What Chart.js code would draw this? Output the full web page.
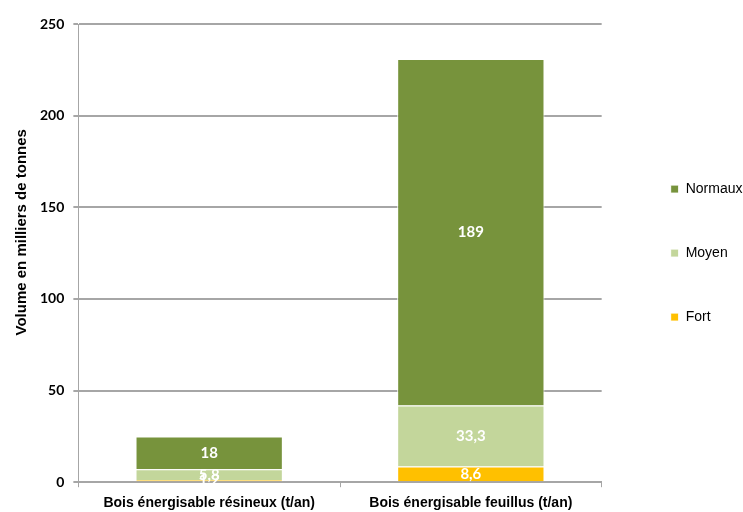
<!DOCTYPE html>
<html>
<head>
<meta charset="utf-8">
<script src="https://cdn.jsdelivr.net/npm/chart.js@4"></script>
<style>
  html, body { margin: 0; padding: 0; background: #fff; }
  #wrap { width: 743px; height: 512px; }
</style>
</head>
<body>
<div id="wrap"><canvas id="volumeChart" width="743" height="512"></canvas></div>
<script>
const categories = ["Bois énergisable résineux (t/an)", "Bois énergisable feuillus (t/an)"];
const fort = [1.2, 8.6];
const moyen = [5.8, 33.3];
const normaux = [18, 189];
const yTicks = [0, 50, 100, 150, 200, 250];

const GRID = "#a6a6a6";
const ARIAL = "'Liberation Sans', Arial, sans-serif";

// value of each segment, written white in its middle
const barValues = {
    id: "barValues",
    afterDatasetsDraw(chart) {
        const ctx = chart.ctx;
        ctx.save();
        ctx.font = "bold 15px Lato";
        ctx.fillStyle = "#fff";
        ctx.textAlign = "center";
        ctx.textBaseline = "middle";
        chart.data.datasets.forEach((ds, i) => {
            chart.getDatasetMeta(i).data.forEach((bar, j) => {
                const label = String(ds.data[j]).replace(".", ",");
                ctx.fillText(label, bar.x, (bar.y + bar.base) / 2);
            });
        });
        ctx.restore();
    }
};

function makeDataset(label, data, color) {
    return {
        label: label,
        data: data,
        backgroundColor: color,
        borderColor: "#fff",
        borderWidth: 1,
        barPercentage: 0.563,
        categoryPercentage: 1
    };
}

// leading blanks lift the rotated title above the middle of the axis
const yTitle = "\u00a0".repeat(10) + "Volume en milliers de tonnes";

const ctx = document.getElementById("volumeChart").getContext("2d");
new Chart(ctx, {
    type: "bar",
    data: {
        labels: categories,
        datasets: [
            makeDataset("Fort", fort, "#ffc000"),
            makeDataset("Moyen", moyen, "#c3d69b"),
            makeDataset("Normaux", normaux, "#77933c")
        ]
    },
    options: {
        responsive: false,
        animation: false,
        layout: { padding: { left: 9, top: 24, right: 0, bottom: -8 } },
        plugins: {
            legend: {
                position: "right",
                fullSize: false,
                reverse: true,
                labels: {
                    boxWidth: 8,
                    boxHeight: 8,
                    padding: 50,
                    color: "#000",
                    font: { family: ARIAL, size: 14 }
                }
            },
            tooltip: { enabled: false }
        },
        scales: {
            x: {
                stacked: true,
                grid: { drawOnChartArea: false, tickLength: 5, color: GRID, offset: true },
                border: { color: GRID, width: 2 },
                ticks: { color: "#000", padding: 8, font: { family: ARIAL, size: 14, weight: "bold" } }
            },
            y: {
                stacked: true,
                min: yTicks[0],
                max: yTicks[yTicks.length - 1],
                ticks: {
                    stepSize: yTicks[1] - yTicks[0],
                    padding: 9,
                    color: "#000",
                    font: { family: "Lato", size: 14, weight: "bold" }
                },
                grid: { color: GRID, lineWidth: 2, tickLength: 5 },
                border: { color: GRID, width: 1 },
                title: {
                    display: true,
                    text: yTitle,
                    color: "#000",
                    font: { family: ARIAL, size: 15, weight: "bold" },
                    padding: { top: 4, bottom: 0 }
                }
            },
            // empty strip between the plot and the legend
            gap: {
                type: "linear",
                position: "right",
                grid: { display: false },
                ticks: { display: false },
                border: { display: false },
                afterFit(scale) { scale.width = 19; }
            }
        }
    },
    plugins: [barValues]
});
</script>
</body>
</html>
